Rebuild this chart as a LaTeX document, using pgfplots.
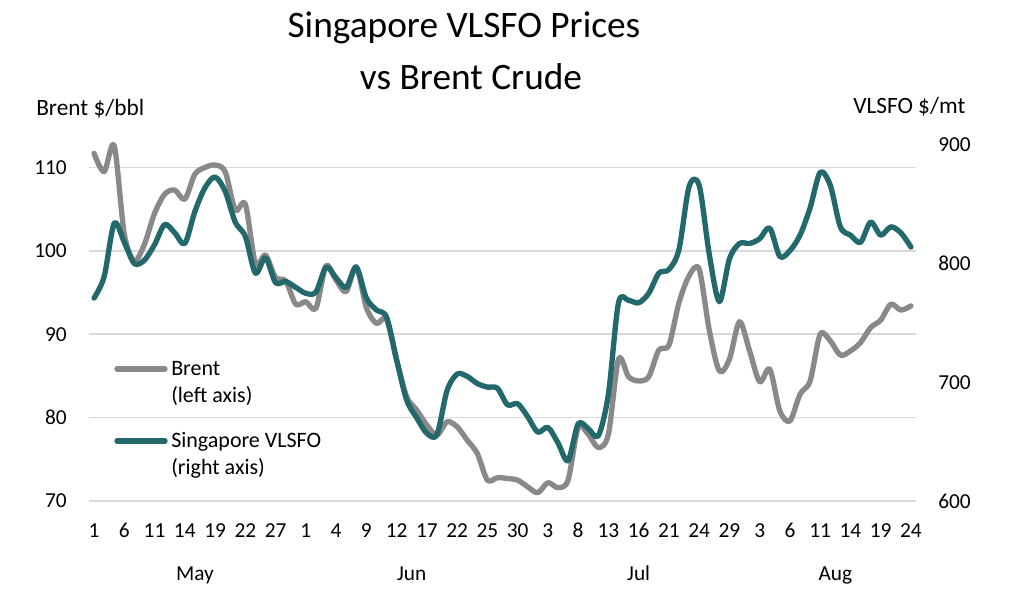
\documentclass[border=0pt]{standalone}
\usepackage{pgfplots}
\pgfplotsset{compat=1.18}
\usepackage{pgfplotstable}
\usepackage{fontspec}
\setmainfont{Carlito}

\definecolor{brentgray}{RGB}{137,137,137}
\definecolor{vlsfoteal}{RGB}{35,104,107}
\definecolor{gridgray}{RGB}{217,217,217}

% trading days, index 0 = 1 May
\pgfplotstableread{
i brent vlsfo
0 111.7 771
1 109.5 789
2 112.6 834
3 102.0 818
4 98.8 800
5 100.8 803
6 104.5 816
7 106.8 833
8 107.3 826
9 106.2 817
10 109.2 844
11 110.0 864
12 110.3 873
13 109.5 861
14 104.9 835
15 105.6 823
16 98.5 792
17 99.5 805
18 96.8 784
19 96.4 785
20 93.6 780
21 93.9 775
22 93.1 776
23 98.2 797
24 96.5 788
25 95.1 780
26 98.1 797
27 93.2 771
28 91.3 761
29 91.8 755
30 86.9 719
31 82.5 685
32 80.9 670
33 79.1 657
34 77.9 656
35 79.5 693
36 78.9 707
37 77.3 705
38 75.7 699
39 72.5 696
40 72.8 695
41 72.7 681
42 72.5 682
43 71.7 671
44 71.0 658
45 72.2 662
46 71.6 649
47 72.5 634
48 78.8 665
49 78.0 661
50 76.4 655
51 78.0 690
52 87.0 767
53 84.9 769
54 84.4 767
55 84.9 775
56 88.1 792
57 88.7 795
58 93.8 812
59 97.0 865
60 97.8 866
61 90.5 808
62 85.6 768
63 87.0 804
64 91.5 817
65 88.0 817
66 84.3 821
67 85.8 830
68 80.8 806
69 79.6 811
70 82.8 824
71 84.4 847
72 90.0 877
73 89.2 866
74 87.5 831
75 88.0 824
76 89.0 818
77 90.8 835
78 91.7 824
79 93.6 831
80 92.9 826
81 93.4 814
}\prices

\pgfplotsset{
  common/.style={
    at={(66.75pt,84pt)}, anchor=south west,
    scale only axis, width=620.25pt, height=267pt,
    xmin=-0.5, xmax=81.5,
    clip=false,
    axis line style={draw=none},
    tick style={draw=none},
    /pgf/number format/assume math mode=true,
    ticklabel style={font=\fontsize{16}{19}\selectfont, inner sep=0pt},
  },
}

\begin{document}
\begin{tikzpicture}
\begin{scope}[x=0.75pt,y=0.75pt]
  \useasboundingbox (0,0) rectangle (1024,613);
  % title
  \node[anchor=base, font=\fontsize{28}{34}\selectfont] at (464,575) {Singapore VLSFO Prices};
  \node[anchor=base, font=\fontsize{28}{34}\selectfont] at (471,523) {vs Brent Crude};
  % axis titles
  \node[anchor=base west, inner sep=0pt, font=\fontsize{17.5}{21}\selectfont] at (36,497) {Brent \$/bbl};
  \node[anchor=base west, inner sep=0pt, font=\fontsize{17.5}{21}\selectfont] at (853,499) {VLSFO \$/mt};
\end{scope}

\begin{axis}[
  common,
  axis x line*=bottom, axis y line*=left,
  ymin=70, ymax=112.7,
  ytick={70,80,...,110},
  ymajorgrids,
  grid style={gridgray, line width=1.3pt},
  xtick={0,3,...,81},
  xticklabels={1,6,11,14,19,22,27,1,4,9,12,17,22,25,30,3,8,13,16,21,24,29,3,6,11,14,19,24},
  xticklabel style={anchor=base, yshift=-27.5pt},
  yticklabel style={anchor=east, xshift=-16.5pt},
]
  \addplot[brentgray, line width=4pt, smooth, tension=0.5, line join=round, line cap=round]
    table[x=i, y=brent] {\prices};
  \node[anchor=base, font=\fontsize{16}{19}\selectfont] at (axis cs:10,70) [yshift=-60pt] {May};
  \node[anchor=base, font=\fontsize{16}{19}\selectfont] at (axis cs:31.5,70) [yshift=-60pt] {Jun};
  \node[anchor=base, font=\fontsize{16}{19}\selectfont] at (axis cs:54,70) [yshift=-60pt] {Jul};
  \node[anchor=base, font=\fontsize{16}{19}\selectfont] at (axis cs:73.5,70) [yshift=-60pt] {Aug};
\end{axis}

\begin{axis}[
  common,
  axis x line=none, axis y line*=right,
  ymin=600, ymax=900,
  ytick={600,700,800,900},
  yticklabel style={anchor=west, xshift=16.5pt},
]
  \addplot[vlsfoteal, line width=4pt, smooth, tension=0.5, line join=round, line cap=round]
    table[x=i, y=vlsfo] {\prices};
\end{axis}

\begin{scope}[x=0.75pt,y=0.75pt]
  % legend
  \draw[brentgray, line width=4pt, line cap=round] (117,244) -- (165,244);
  \node[anchor=base west, inner sep=0pt, font=\fontsize{16.5}{20}\selectfont] at (171,237) {Brent};
  \node[anchor=base west, inner sep=0pt, font=\fontsize{16.5}{20}\selectfont] at (171,210) {(left axis)};
  \draw[vlsfoteal, line width=4pt, line cap=round] (117,172) -- (165,172);
  \node[anchor=base west, inner sep=0pt, font=\fontsize{16.5}{20}\selectfont] at (171,165) {Singapore VLSFO};
  \node[anchor=base west, inner sep=0pt, font=\fontsize{16.5}{20}\selectfont] at (171,138) {(right axis)};
\end{scope}
\end{tikzpicture}
\end{document}
